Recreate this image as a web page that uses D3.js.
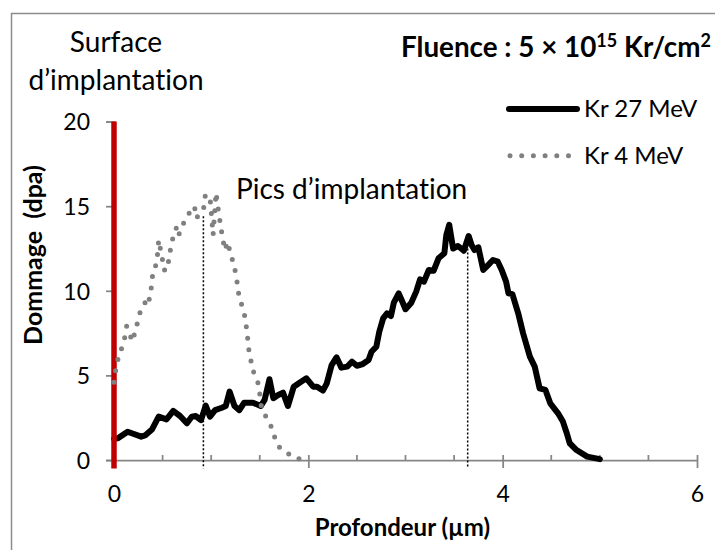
<!DOCTYPE html>
<html>
<head>
<meta charset="utf-8">
<script src="https://cdn.jsdelivr.net/npm/d3@7"></script>
<style>
  html, body { margin: 0; padding: 0; background: #fff; }
  svg { display: block; font-family: Lato, "Noto Sans", sans-serif; font-variant-ligatures: none; }
</style>
</head>
<body>
<svg id="chart" width="715" height="550"></svg>
<script>
// Damage profiles (dpa) versus depth (µm) for two krypton beam energies
const depth27 = [0.00, 0.04, 0.14, 0.28, 0.32, 0.39, 0.46, 0.54, 0.61, 0.68, 0.75, 0.80, 0.84, 0.895, 0.944, 0.988,
  1.04, 1.11, 1.15, 1.19, 1.24, 1.29, 1.34, 1.43, 1.51, 1.55, 1.60, 1.64, 1.69, 1.74, 1.79, 1.85, 1.91, 1.98,
  2.05, 2.09, 2.15, 2.19, 2.24, 2.29, 2.34, 2.40, 2.45, 2.50, 2.56, 2.62, 2.65, 2.70, 2.73, 2.77, 2.81, 2.85,
  2.88, 2.93, 2.96, 3.00, 3.06, 3.11, 3.15, 3.19, 3.24, 3.29, 3.34, 3.40, 3.42, 3.45, 3.49, 3.54, 3.60, 3.65,
  3.68, 3.71, 3.75, 3.80, 3.85, 3.90, 3.95, 3.99, 4.035, 4.06, 4.10, 4.16, 4.21, 4.28, 4.33, 4.38, 4.44, 4.49,
  4.57, 4.62, 4.66, 4.69, 4.76, 4.87, 5.00];
const dpa27 = [1.25, 1.28, 1.67, 1.38, 1.45, 1.8, 2.56, 2.40, 2.90, 2.60, 2.17, 2.56, 2.60, 2.36, 3.21, 2.56,
  2.95, 3.09, 3.19, 4.04, 3.19, 2.95, 3.39, 3.39, 3.19, 3.55, 4.77, 3.65, 3.84, 3.98, 3.19, 4.33, 4.57, 4.83,
  4.33, 4.33, 4.10, 4.53, 5.61, 6.07, 5.46, 5.52, 5.81, 5.57, 5.67, 5.91, 6.40, 6.70, 7.58, 8.37, 8.67, 8.51,
  9.30, 9.85, 9.46, 8.91, 9.30, 9.95, 10.68, 10.54, 11.23, 11.19, 11.92, 12.22, 13.3, 13.9, 12.5, 12.65, 12.37, 13.24,
  12.71, 12.41, 12.57, 11.23, 11.52, 11.82, 11.72, 11.23, 10.54, 9.85, 9.80, 8.67, 7.49, 6.11, 5.52, 4.24, 4.14, 3.35,
  2.76, 2.27, 1.58, 0.99, 0.59, 0.20, 0.05];

const depth4 = [0.00, 0.02, 0.05, 0.10, 0.13, 0.19, 0.25, 0.28, 0.32, 0.35, 0.39, 0.40, 0.44, 0.45, 0.46, 0.50,
  0.52, 0.53, 0.56, 0.58, 0.60, 0.64, 0.66, 0.70, 0.75, 0.80, 0.83, 0.84, 0.89, 0.93, 0.94, 0.99, 1.02, 1.05,
  1.08, 1.11, 1.14, 1.17, 1.19, 1.21, 1.24, 1.27, 1.29, 1.32, 1.35, 1.37, 1.39, 1.43, 1.48, 1.50, 1.51, 1.55,
  1.61, 1.65, 1.69, 1.75, 1.83, 1.95];
const dpa4 = [4.6, 5.4, 6.2, 6.9, 7.9, 7.0, 8.3, 9.0, 9.3, 9.1, 10.4, 11.2, 11.6, 12.3, 13.0, 11.8,
  11.2, 11.7, 11.7, 12.4, 13.0, 13.7, 13.2, 13.8, 14.4, 14.8, 15.0, 14.3, 14.5, 15.0, 15.7, 15.4, 13.3, 15.8,
  14.5, 13.4, 12.4, 12.9, 12.4, 12.0, 11.4, 10.4, 9.5, 9.1, 8.4, 7.5, 6.4, 5.3, 4.6, 3.9, 3.3, 2.7,
  2.1, 1.4, 0.8, 0.6, 0.2, 0.0];

const seriesNames = ["Kr 27 MeV", "Kr 4 MeV"];
const xTicks = [0, 2, 4, 6];
const xMinorTicks = [0.5, 1, 1.5, 2.5, 3, 3.5, 4.5, 5, 5.5];
const yTicks = [0, 5, 10, 15, 20];

// implantation peaks (depth, dpa at peak) and the implanted surface
const peakDepth = [0.92, 3.64];
const peakDpa = [14.4, 12.5];
const surfaceDepth = 0;
const surfaceTop = 20;
const guideBottom = -0.5;

const svg = d3.select("#chart");
const x = d3.scaleLinear().domain([0, 6]).range([114, 697]);
const y = d3.scaleLinear().domain([0, 20]).range([460, 121.6]);
const axisGrey = "#868686";

// outer frame
svg.append("rect")
  .attr("x", 11.5).attr("y", 13.5).attr("width", 800).attr("height", 600)
  .attr("fill", "none").attr("stroke", "#8c8c8c").attr("stroke-width", 1.5);

// y axis
const yAxis = svg.append("g").attr("transform", `translate(${x(0)},0)`)
  .call(d3.axisLeft(y).tickValues(yTicks).tickFormat(d3.format("d")).tickSize(8).tickPadding(16));
yAxis.select(".domain").attr("stroke", axisGrey).attr("stroke-width", 1.75);
yAxis.selectAll(".tick line").attr("stroke", axisGrey).attr("stroke-width", 1.75);
yAxis.selectAll(".tick text").attr("font-size", 23).attr("fill", "#000")
  .attr("font-family", "Lato").attr("dy", "0.36em");

// x axis with crossing major ticks and inside minor ticks
const xAxis = svg.append("g").attr("transform", `translate(0,${y(0)})`)
  .call(d3.axisBottom(x).tickValues(xTicks).tickFormat(d3.format("d"))
    .tickSize(8).tickSizeOuter(0).tickPadding(18));
xAxis.select(".domain").attr("stroke", axisGrey).attr("stroke-width", 1.75);
xAxis.selectAll(".tick line").attr("stroke", axisGrey).attr("stroke-width", 1.75).attr("y1", -5);
xAxis.selectAll(".tick text").attr("font-size", 23).attr("fill", "#000")
  .attr("font-family", "Lato").attr("dy", "0.71em");
xAxis.selectAll(".minor").data(xMinorTicks).enter().append("line")
  .attr("class", "minor")
  .attr("x1", d => x(d)).attr("x2", d => x(d))
  .attr("y1", -5).attr("y2", 0)
  .attr("stroke", axisGrey).attr("stroke-width", 1.75);

// axis titles
svg.append("text")
  .attr("x", 402.5).attr("y", 535.5)
  .attr("text-anchor", "middle").attr("font-weight", "bold").attr("font-size", 24)
  .text("Profondeur (µm)");
svg.append("text")
  .attr("transform", "translate(41.5,255) rotate(-90)")
  .attr("text-anchor", "middle").attr("font-weight", "bold").attr("font-size", 25)
  .attr("xml:space", "preserve")
  .text("Dommage  (dpa)");

const line = d3.line().x(d => x(d[0])).y(d => y(d[1]));

// Kr 27 MeV profile
svg.append("path")
  .datum(d3.zip(depth27, dpa27))
  .attr("d", line)
  .attr("fill", "none").attr("stroke", "#000").attr("stroke-width", 6)
  .attr("stroke-linejoin", "round").attr("stroke-linecap", "round");

// implanted surface
svg.append("line")
  .attr("x1", x(surfaceDepth)).attr("x2", x(surfaceDepth))
  .attr("y1", y(surfaceTop)).attr("y2", y(guideBottom))
  .attr("stroke", "#c00000").attr("stroke-width", 5.5);

// Kr 4 MeV profile (round dots)
svg.append("path")
  .datum(d3.zip(depth4, dpa4))
  .attr("d", line)
  .attr("fill", "none").attr("stroke", "#808080").attr("stroke-width", 5)
  .attr("stroke-linecap", "round").attr("stroke-dasharray", "0 11.5");

// dotted guides down from each implantation peak
svg.selectAll(".peak").data(d3.zip(peakDepth, peakDpa)).enter().append("line")
  .attr("class", "peak")
  .attr("x1", d => x(d[0])).attr("x2", d => x(d[0]))
  .attr("y1", d => y(d[1])).attr("y2", y(guideBottom))
  .attr("stroke", "#000").attr("stroke-width", 1.5).attr("stroke-dasharray", "2 2");

// annotations
const ann = svg.append("g").attr("font-size", 28);
ann.append("text").attr("x", 116).attr("y", 52).attr("text-anchor", "middle").text("Surface");
ann.append("text").attr("x", 116).attr("y", 90).attr("text-anchor", "middle").text("d’implantation");
ann.append("text").attr("x", 236).attr("y", 199).text("Pics d’implantation");

// fluence title
const title = svg.append("text").attr("x", 401).attr("y", 57.3)
  .attr("font-weight", "bold").attr("font-size", 27.8);
title.append("tspan").text("Fluence : 5 × 10");
title.append("tspan").attr("font-size", 18).attr("dy", -10).text("15");
title.append("tspan").attr("dy", 10).text(" Kr/cm");
title.append("tspan").attr("font-size", 18).attr("dy", -10).text("2");

// legend
const legend = svg.append("g");
legend.append("line").attr("x1", 509).attr("x2", 577).attr("y1", 109).attr("y2", 109)
  .attr("stroke", "#000").attr("stroke-width", 6).attr("stroke-linecap", "round");
legend.append("line").attr("x1", 510).attr("x2", 570).attr("y1", 155.7).attr("y2", 155.7)
  .attr("stroke", "#808080").attr("stroke-width", 5)
  .attr("stroke-linecap", "round").attr("stroke-dasharray", "0 11.7");
legend.selectAll(".lbl").data(seriesNames).enter().append("text")
  .attr("class", "lbl")
  .attr("x", 584).attr("y", (d, i) => 117 + i * 47)
  .attr("font-size", 24)
  .text(d => d);
</script>
</body>
</html>
